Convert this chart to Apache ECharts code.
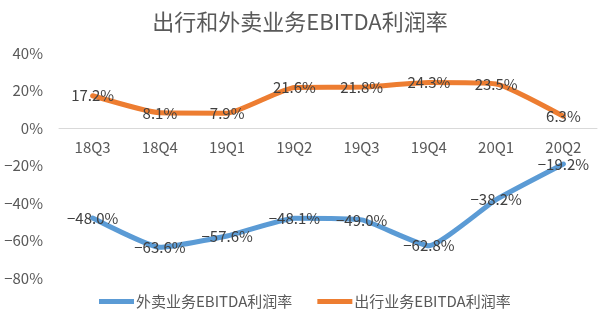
<!DOCTYPE html>
<html><head><meta charset="utf-8">
<script src="https://cdn.jsdelivr.net/npm/echarts@6/dist/echarts.min.js"></script>
<style>html,body{margin:0;padding:0;background:#fff}#c{width:600px;height:322px}</style>
</head><body><div id="c"></div>
<script>
const categories = ['18Q3','18Q4','19Q1','19Q2','19Q3','19Q4','20Q1','20Q2'];
const waimai = [-48.0,-63.6,-57.6,-48.1,-49.0,-62.8,-38.2,-19.2];
const chuxing = [17.2,8.1,7.9,21.6,21.8,24.3,23.5,6.3];
const seriesNames = ['外卖业务EBITDA利润率','出行业务EBITDA利润率'];
const FONT = '"Noto Sans CJK SC", "Noto Sans", sans-serif';
const yMin = -80, yMax = 40;
const fmt = (v, d) => (v < 0 ? '\u2212' : '') + Math.abs(v).toFixed(d) + '%';
const gridTop = 53, gridBottom = 44, H = 322;
const plotH = H - gridTop - gridBottom;
const zeroOffset = plotH * (0 - yMin) / (yMax - yMin);
const chart = echarts.init(document.getElementById('c'), null, {renderer:'canvas'});
const lbl = {show:true, position:'inside', color:'#404040', fontSize:15, fontFamily:FONT,
  formatter: p => fmt(p.value, 1)};
chart.setOption({
  animation:false,
  title:{text:'出行和外卖业务EBITDA利润率', left:'center', top:6,
    textStyle:{fontFamily:FONT, fontSize:22, fontWeight:'normal', color:'#595959'}},
  legend:{top:289, left:94, itemWidth:35, itemHeight:5, itemGap:25, icon:'rect',
    textStyle:{fontFamily:FONT, fontSize:15, color:'#595959', padding:[0,0,0,-3]}},
  grid:{left:59, right:3, top:gridTop, bottom:gridBottom},
  xAxis:{type:'category', data:categories, boundaryGap:true, offset:-zeroOffset,
    axisLine:{onZero:false, lineStyle:{color:'#d9d9d9', width:1}},
    axisTick:{show:false},
    axisLabel:{color:'#595959', fontSize:15, fontFamily:FONT, margin:12}},
  yAxis:{type:'value', min:yMin, max:yMax, interval:20,
    splitLine:{show:false}, axisLine:{show:false}, axisTick:{show:false},
    axisLabel:{color:'#595959', fontSize:15, fontFamily:FONT, margin:16,
      formatter: v => fmt(v, 0)}},
  series:[
    {name:seriesNames[0], type:'line', data:waimai, smooth:0.15, symbol:'circle', symbolSize:0.1,
     lineStyle:{width:5, color:'#5b9bd5', cap:'round', join:'round'}, itemStyle:{color:'#5b9bd5'}, label:lbl},
    {name:seriesNames[1], type:'line', data:chuxing, smooth:0.15, symbol:'circle', symbolSize:0.1,
     lineStyle:{width:5, color:'#ed7d31', cap:'round', join:'round'}, itemStyle:{color:'#ed7d31'}, label:lbl}
  ]
});
</script></body></html>
